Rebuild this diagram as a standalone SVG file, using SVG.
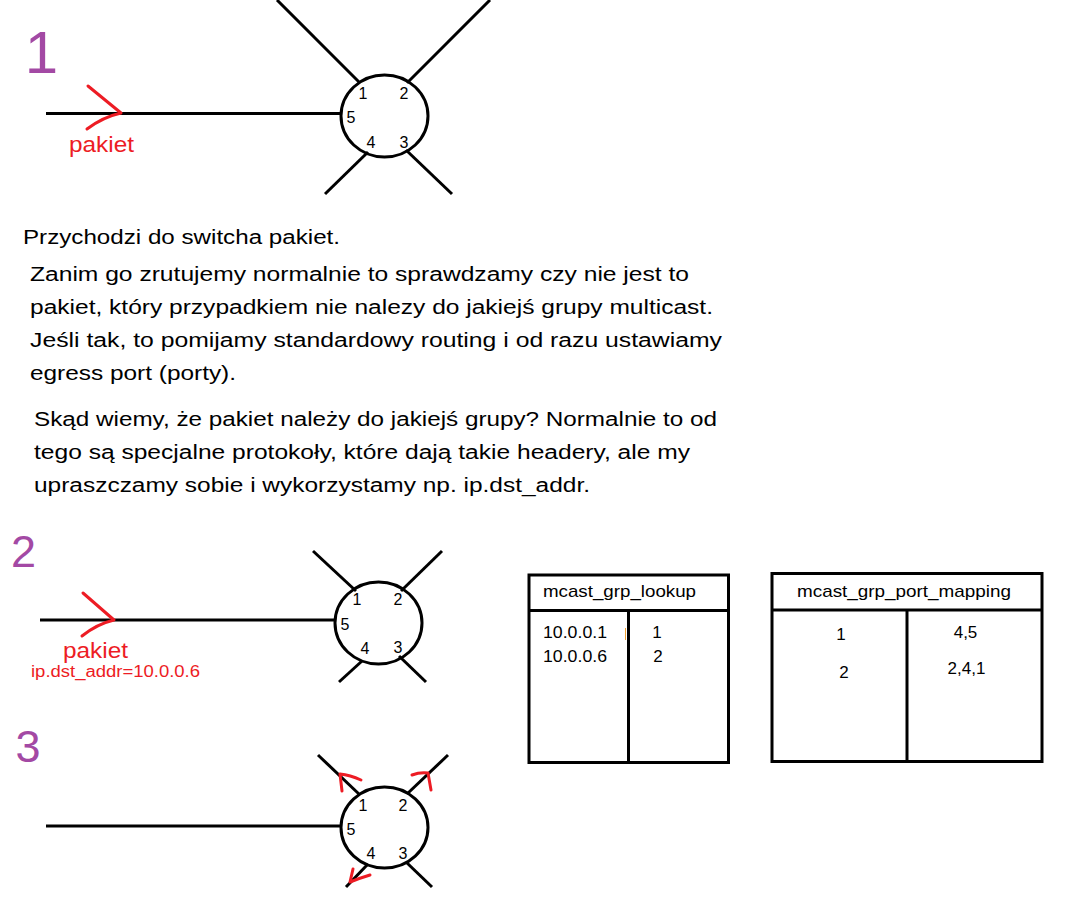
<svg xmlns="http://www.w3.org/2000/svg" width="1068" height="918" viewBox="0 0 1068 918">
<style>
.ln{stroke:#000;stroke-width:3;fill:none;stroke-linecap:butt}
.red{stroke:#ED1C24;stroke-width:3;fill:none;stroke-linecap:round;stroke-linejoin:round}
.step{font-family:"Liberation Sans",Arial,sans-serif;fill:#A349A4;text-anchor:middle}
.port{font-family:"Liberation Sans",Arial,sans-serif;font-size:16px;fill:#000;text-anchor:middle}
.lbl{font-family:"Liberation Sans",Arial,sans-serif;fill:#ED1C24}
.body{font-family:"Liberation Sans",Arial,sans-serif;font-size:20px;fill:#000}
.tb{font-family:"Liberation Sans",Arial,sans-serif;font-size:17px;fill:#000}
</style>
<rect width="1068" height="918" fill="#fff"/>

<!-- Diagram 1 -->
<g id="step1">
<text class="step" x="41.5" y="73" font-size="60">1</text>
<g id="switch1">
<line class="ln" x1="277" y1="0" x2="360" y2="83"/>
<line class="ln" x1="490" y1="0" x2="407" y2="83"/>
<line class="ln" x1="368" y1="152" x2="325" y2="194"/>
<line class="ln" x1="406" y1="150" x2="452" y2="194"/>
<ellipse class="ln" cx="384.5" cy="116" rx="43.5" ry="41"/>
<text class="port" x="363" y="99">1</text>
<text class="port" x="404" y="99">2</text>
<text class="port" x="351" y="123">5</text>
<text class="port" x="371" y="148">4</text>
<text class="port" x="404" y="148">3</text>
</g>
<g id="conn1">
<line class="ln" x1="46" y1="113.5" x2="341" y2="113.5"/>
<path class="red" d="M88,86 L121,113 Q103,117 87,129"/>
</g>
<text class="lbl" x="69" y="152" font-size="22" textLength="65" lengthAdjust="spacingAndGlyphs">pakiet</text>
</g>

<!-- Text -->
<g id="text">
<text class="body" x="23" y="244" textLength="317" lengthAdjust="spacingAndGlyphs">Przychodzi do switcha pakiet.</text>
<text class="body" x="30" y="281" textLength="659" lengthAdjust="spacingAndGlyphs">Zanim go zrutujemy normalnie to sprawdzamy czy nie jest to</text>
<text class="body" x="30" y="314" textLength="683" lengthAdjust="spacingAndGlyphs">pakiet, który przypadkiem nie nalezy do jakiejś grupy multicast.</text>
<text class="body" x="30" y="347" textLength="692" lengthAdjust="spacingAndGlyphs">Jeśli tak, to pomijamy standardowy routing i od razu ustawiamy</text>
<text class="body" x="30" y="380" textLength="206" lengthAdjust="spacingAndGlyphs">egress port (porty).</text>
<text class="body" x="34" y="426" textLength="683" lengthAdjust="spacingAndGlyphs">Skąd wiemy, że pakiet należy do jakiejś grupy? Normalnie to od</text>
<text class="body" x="34" y="459" textLength="656" lengthAdjust="spacingAndGlyphs">tego są specjalne protokoły, które dają takie headery, ale my</text>
<text class="body" x="34" y="492" textLength="556" lengthAdjust="spacingAndGlyphs">upraszczamy sobie i wykorzystamy np. ip.dst_addr.</text>
</g>

<!-- Diagram 2 -->
<g id="step2">
<text class="step" x="23.5" y="567" font-size="45">2</text>
<g id="switch2">
<line class="ln" x1="313" y1="551" x2="356" y2="591"/>
<line class="ln" x1="442" y1="551" x2="401" y2="591"/>
<line class="ln" x1="362" y1="661" x2="339" y2="682"/>
<line class="ln" x1="399" y1="656" x2="426" y2="682"/>
<ellipse class="ln" cx="378.5" cy="623" rx="43.5" ry="41"/>
<text class="port" x="357" y="605">1</text>
<text class="port" x="398" y="605">2</text>
<text class="port" x="345" y="630">5</text>
<text class="port" x="365" y="654">4</text>
<text class="port" x="398" y="653">3</text>
</g>
<g id="conn2">
<line class="ln" x1="40" y1="620" x2="335" y2="620"/>
<path class="red" d="M83,593 L114,620 Q97,624 82,636"/>
</g>
<text class="lbl" x="63" y="658" font-size="22" textLength="65" lengthAdjust="spacingAndGlyphs">pakiet</text>
<text class="lbl" x="31" y="677" font-size="16" textLength="169" lengthAdjust="spacingAndGlyphs">ip.dst_addr=10.0.0.6</text>
</g>

<!-- Diagram 3 -->
<g id="step3">
<text class="step" x="28" y="762" font-size="45">3</text>
<g id="switch3">
<line class="ln" x1="318" y1="755" x2="360" y2="795"/>
<line class="ln" x1="448" y1="755" x2="407" y2="794"/>
<line class="ln" x1="368" y1="864" x2="346" y2="887"/>
<line class="ln" x1="406" y1="862" x2="432" y2="887"/>
<ellipse class="ln" cx="384.5" cy="827.5" rx="43.5" ry="40.5"/>
<text class="port" x="363" y="811">1</text>
<text class="port" x="403" y="811">2</text>
<text class="port" x="351" y="835">5</text>
<text class="port" x="371" y="859">4</text>
<text class="port" x="403" y="859">3</text>
</g>
<g id="conn3">
<line class="ln" x1="46" y1="826" x2="342" y2="826"/>
<path class="red" d="M361,780 Q350,775 340,774 L342,791"/>
<path class="red" d="M412,775 Q420,772 428,773 L431,790"/>
<path class="red" d="M370,875 Q360,878 350,882 L353,869"/>
</g>
</g>

<!-- Table 1 -->
<g id="mcast_grp_lookup">
<rect class="ln" x="529" y="575" width="199.5" height="187.5"/>
<line class="ln" x1="529" y1="610.5" x2="728.5" y2="610.5"/>
<line class="ln" x1="628.5" y1="610.5" x2="628.5" y2="762.5"/>
<text class="tb" x="543" y="597" textLength="153" lengthAdjust="spacingAndGlyphs">mcast_grp_lookup</text>
<text class="tb" x="543" y="638" textLength="64" lengthAdjust="spacingAndGlyphs">10.0.0.1</text>
<text class="tb" x="543" y="662" textLength="64" lengthAdjust="spacingAndGlyphs">10.0.0.6</text>
<line x1="625.5" y1="628" x2="625.5" y2="640" stroke="#F0A030" stroke-width="1"/>
<text class="tb" x="657" y="638" text-anchor="middle">1</text>
<text class="tb" x="658" y="662" text-anchor="middle">2</text>
</g>

<!-- Table 2 -->
<g id="mcast_grp_port_mapping">
<rect class="ln" x="772" y="573.5" width="270" height="188"/>
<line class="ln" x1="772" y1="610" x2="1042" y2="610"/>
<line class="ln" x1="907" y1="610" x2="907" y2="761.5"/>
<text class="tb" x="797" y="597" textLength="214" lengthAdjust="spacingAndGlyphs">mcast_grp_port_mapping</text>
<text class="tb" x="841" y="640" text-anchor="middle">1</text>
<text class="tb" x="844" y="678" text-anchor="middle">2</text>
<text class="tb" x="965.5" y="638" text-anchor="middle">4,5</text>
<text class="tb" x="966.5" y="674" text-anchor="middle">2,4,1</text>
</g>
</svg>
